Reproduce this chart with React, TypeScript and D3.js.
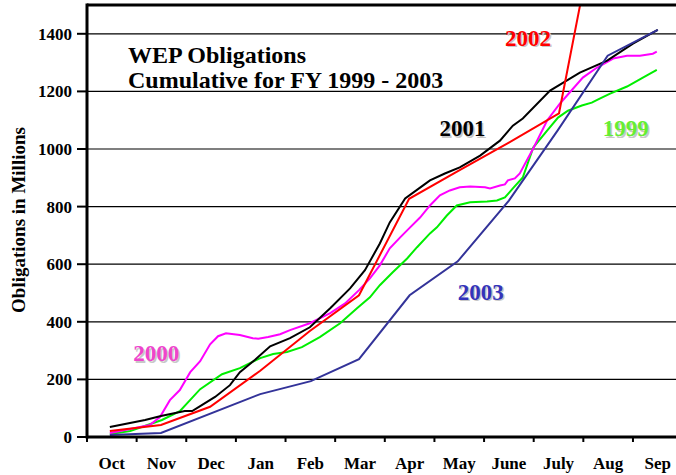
import * as d3 from "d3";

// month categories (fiscal year Oct - Sep)
const months = ["Oct", "Nov", "Dec", "Jan", "Feb", "Mar", "Apr", "May", "June", "July", "Aug", "Sep"];
const yTicks = [0, 200, 400, 600, 800, 1000, 1200, 1400];

// [months since Oct 1, cumulative obligations in millions]
const fy1999: [number, number][] = [
  [0.46, 10], [0.87, 21], [1.51, 59], [1.87, 90], [2.28, 166], [2.72, 218], [3.08, 239],
  [3.49, 274], [3.75, 288], [4.03, 295], [4.33, 312], [4.69, 347], [5.1, 395], [5.44, 447],
  [5.7, 485], [5.9, 527], [6.16, 572], [6.45, 620], [6.65, 659], [6.91, 707], [7.05, 728],
  [7.25, 769], [7.45, 804], [7.72, 815], [8.06, 818], [8.26, 821], [8.42, 832], [8.58, 863],
  [8.78, 901], [8.99, 1005], [9.27, 1064], [9.49, 1109], [9.69, 1133], [9.97, 1151],
  [10.17, 1161], [10.33, 1175], [10.54, 1192], [10.88, 1217], [11.2, 1248], [11.48, 1275],
];

const fy2000: [number, number][] = [
  [0.46, 14], [0.97, 31], [1.27, 42], [1.47, 69], [1.67, 128], [1.87, 163], [2.08, 225],
  [2.28, 263], [2.48, 322], [2.64, 350], [2.8, 360], [3.08, 354], [3.34, 343], [3.45, 341],
  [3.65, 347], [3.89, 357], [4.09, 371], [4.49, 395], [4.9, 430], [5.2, 464], [5.48, 510],
  [5.7, 551], [5.9, 596], [6.1, 655], [6.31, 693], [6.51, 728], [6.71, 762], [6.91, 804],
  [7.11, 839], [7.31, 856], [7.51, 867], [7.72, 870], [8.02, 867], [8.12, 863], [8.32, 873],
  [8.42, 877], [8.48, 891], [8.62, 898], [8.72, 915], [8.99, 1002], [9.27, 1099],
  [9.53, 1158], [9.99, 1248], [10.27, 1282], [10.6, 1314], [10.88, 1324], [11.14, 1324],
  [11.4, 1331], [11.48, 1338],
];

const fy2001: [number, number][] = [
  [0.46, 35], [1.17, 59], [1.49, 73], [1.97, 90], [2.12, 90], [2.28, 107], [2.58, 139],
  [2.88, 180], [3.08, 225], [3.38, 267], [3.69, 315], [4.09, 343], [4.49, 381], [4.9, 447],
  [5.3, 516], [5.6, 579], [5.9, 672], [6.1, 745], [6.41, 828], [6.71, 866], [6.91, 891],
  [7.21, 915], [7.51, 936], [7.92, 977], [8.32, 1029], [8.58, 1081], [8.78, 1106],
  [9.33, 1203], [9.93, 1265], [10.48, 1307], [11.0, 1366], [11.5, 1414],
];

const fy2002: [number, number][] = [
  [0.46, 21], [1.49, 42], [2.48, 105], [3.49, 230], [4.49, 368], [5.48, 492], [6.49, 827],
  [7.49, 925], [8.5, 1022], [9.51, 1124], [10.5, 2000],
];

const fy2003: [number, number][] = [
  [0.46, 7], [1.49, 14], [3.49, 149], [4.51, 194], [5.48, 270], [6.5, 492], [7.47, 610],
  [8.5, 821], [9.48, 1064], [10.49, 1324], [11.5, 1414],
];

const series = [
  { name: "1999", data: fy1999, color: "#00ee00", label: "#66ee33", lx: 10.39, ly: 1045 },
  { name: "2000", data: fy2000, color: "#ff00ff", label: "#ee44cc", lx: 0.93, ly: 263 },
  { name: "2001", data: fy2001, color: "#000000", label: "#000000", lx: 7.1, ly: 1045 },
  { name: "2002", data: fy2002, color: "#ff0000", label: "#ff0000", lx: 8.42, ly: 1358 },
  { name: "2003", data: fy2003, color: "#333399", label: "#3333bb", lx: 7.47, ly: 476 },
];

const W = 676;
const H = 475;
const left = 87;
const right = 682.6;
const top = 5;
const bottom = 437;
const font = "'Liberation Serif', 'Times New Roman', serif";

export default function App() {
  const x = d3.scaleLinear().domain([0, 12]).range([left, right]);
  const band = d3.scaleBand().domain(months).range([left, right]);
  const y = d3.scaleLinear().domain([0, 1500]).range([bottom, top]);
  const line = d3.line<[number, number]>().x(d => x(d[0])).y(d => y(d[1]));

  return (
    <svg width={W} height={H} style={{ position: "absolute", left: 0, top: 0, background: "#fff" }}
      fontFamily={font} fontWeight="bold">
      <defs>
        <clipPath id="plot">
          <rect x={left} y={top} width={right - left} height={bottom - top} />
        </clipPath>
      </defs>

      {/* grid lines + y ticks */}
      {yTicks.map(t => (
        <g key={t}>
          {t > 0 && <line x1={left} x2={right} y1={y(t)} y2={y(t)} stroke="#000" strokeWidth={1.2} />}
          <line x1={left - 10} x2={left} y1={y(t)} y2={y(t)} stroke="#000" strokeWidth={2} />
          <text x={72} y={y(t)} dy="0.35em" textAnchor="end" fontSize={17}>{t}</text>
        </g>
      ))}

      {/* x ticks & month labels */}
      {months.map(m => (
        <g key={m}>
          <line x1={band(m)!} x2={band(m)!} y1={bottom} y2={bottom + 5} stroke="#000" strokeWidth={2} />
          <text x={band(m)! + band.bandwidth() / 2} y={469} textAnchor="middle" fontSize={17}>{m}</text>
        </g>
      ))}

      {/* title */}
      <text x={128} y={63} fontSize={24}>WEP Obligations</text>
      <text x={128} y={88} fontSize={24}>Cumulative for FY 1999 - 2003</text>

      {/* lines */}
      <g clipPath="url(#plot)">
        {series.map(s => (
          <path key={s.name} d={line(s.data) ?? ""} fill="none" stroke={s.color} strokeWidth={2} />
        ))}
      </g>

      {/* series labels with shadow */}
      {series.map(s => (
        <g key={s.name} fontSize={23}>
          <text x={x(s.lx) + 1.5} y={y(s.ly) + 1.5} fill="#c8c8c8">{s.name}</text>
          <text x={x(s.lx)} y={y(s.ly)} fill={s.label}>{s.name}</text>
        </g>
      ))}

      {/* frame */}
      <line x1={left} x2={W} y1={top} y2={top} stroke="#000" strokeWidth={3} />
      <line x1={left} x2={left} y1={top - 1.5} y2={bottom + 1.5} stroke="#000" strokeWidth={3} />
      <line x1={left} x2={W} y1={bottom} y2={bottom} stroke="#000" strokeWidth={3} />

      <text transform={`translate(25,${220}) rotate(-90)`} textAnchor="middle" fontSize={19}>
        Obligations in Millions
      </text>
    </svg>
  );
}
